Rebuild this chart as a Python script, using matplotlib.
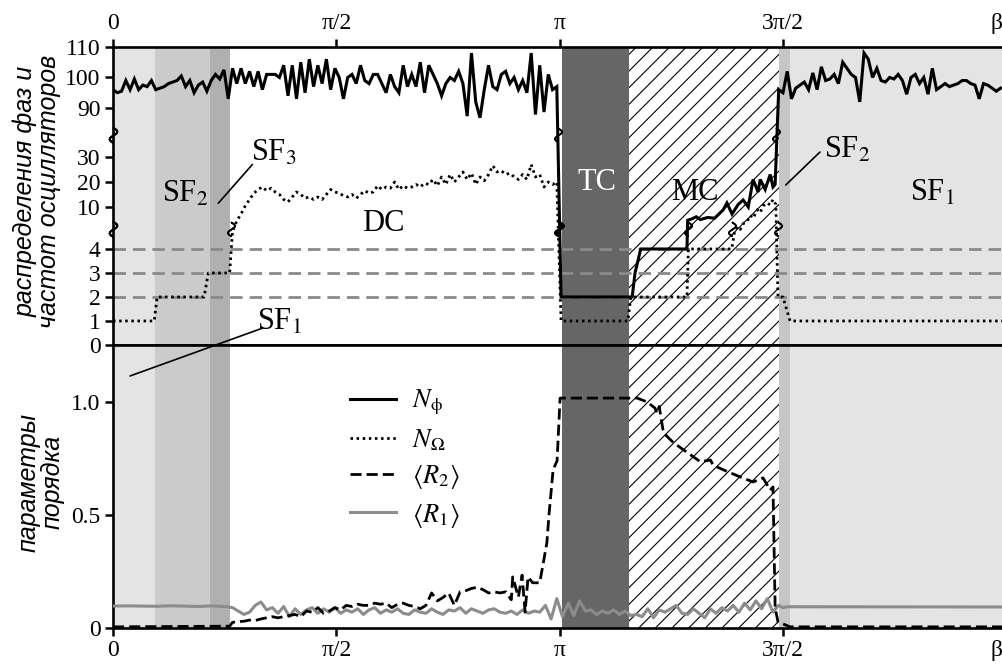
import numpy as np
import matplotlib
matplotlib.use('Agg')
import matplotlib.pyplot as plt
import matplotlib.transforms as mtrans
from matplotlib.path import Path

plt.rcParams['font.family'] = ['Liberation Serif', 'DejaVu Serif']
plt.rcParams['mathtext.fontset'] = 'stix'
plt.rcParams['hatch.linewidth'] = 0.8

# ---------------- data ----------------
xtick_vals = [0, np.pi / 2, np.pi, 3 * np.pi / 2, 6.21]
xtick_labels = ['0', 'π/2', 'π', '3π/2', 'β']
top_yticks = [0, 1, 2, 3, 4, 10, 20, 30, 90, 100, 110]
bot_yticks = [0, 0.5, 1.0]
bot_yticklabels = ['0', '0.5', '1.0']
level_lines = [2, 3, 4]

region_bounds = [0.0, 0.295, 0.68, 0.82, 3.16, 3.63, 4.68, 4.76, 6.25]
region_colors = ['#e4e4e4', '#cbcbcb', '#b0b0b0', 'white', '#666666', 'white', '#c6c6c6', '#e4e4e4']
region_hatch = [None, None, None, None, None, '//', None, None]

# N_phi
nphi_left_x = np.linspace(0, 3.12, 105)
nphi_left = [96, 95, 95.5, 99, 96, 99.5, 96, 97.5, 97, 99,
             96, 96.5, 97, 98, 98.5, 99, 100.5, 97, 99, 95,
             97.5, 98.5, 95.5, 99, 101, 99.5, 102.5, 93, 103, 98,
             103, 98, 102, 97, 102, 96, 101, 101, 101, 100,
             104, 94, 104, 93, 105, 95, 106, 97, 104, 98,
             106, 96, 103, 100, 93, 100, 101, 98, 104, 99,
             98, 101, 101, 98, 95, 101, 97, 95, 104, 97,
             101, 97, 105, 95, 104, 101, 98, 94, 98, 100,
             99, 102, 98, 80, 108, 92, 78, 96, 104, 97,
             96, 101, 102, 98, 100, 96, 99, 95, 108, 82,
             104, 85, 101, 96, 97]
nphi_mid_x = [3.15, 3.65, 3.67, 3.71, 4.035, 4.04, 4.07, 4.10, 4.13, 4.18,
              4.23, 4.29, 4.316, 4.352, 4.395, 4.43, 4.466, 4.50, 4.535, 4.55,
              4.585, 4.62, 4.64, 4.655, 4.68]
nphi_mid = [2, 2, 3, 4, 4, 8.1, 8.3, 8.6, 8.2, 8.5,
            8.4, 9.6, 11.6, 9, 11, 12.8, 10, 21, 16, 21,
            17, 23, 18, 19, 96]
nphi_right_x = np.linspace(4.71, 6.24, 52)
nphi_right = [95, 102, 93, 96.5, 97.5, 98.5, 96, 101.5, 96, 103.5,
              99, 99.5, 101, 98, 105, 103, 101, 100, 92, 108,
              106, 100, 103, 99, 98.5, 100, 99.5, 101, 99, 94.5,
              100, 101, 98, 100, 94.5, 103, 96, 97, 98, 97,
              97.5, 98, 99, 99, 98, 97.5, 93, 98, 97.5, 96.5,
              95.5, 96.5]

# N_Omega
nomega_a_x = [0.0, 0.29, 0.31, 0.64, 0.67, 0.82]
nomega_a = [1, 1, 2, 2, 3, 3]
nomega_dc_x = np.linspace(0.84, 3.12, 77)
nomega_dc = [6.5, 8, 9, 10.5, 13, 15.5, 17, 18, 16.5, 17.5,
             16, 15, 13, 12, 14, 16, 15, 13.5, 14, 13,
             14, 13, 15, 17, 16, 15.5, 14.5, 14, 15, 13.5,
             15, 16.5, 15.5, 16, 18.5, 17, 18, 17.5, 20, 17,
             18.5, 17.5, 18, 19, 18, 19.5, 19, 21, 18.5, 22,
             19, 23, 20, 22, 24, 21, 23.5, 19, 22, 20.5,
             23, 26.5, 24, 24.5, 23, 23.5, 22, 21, 23, 21,
             27, 22, 23, 18, 20, 19, 20]
nomega_b_x = [3.15, 3.62, 3.64, 4.035, 4.045, 4.35, 4.37, 4.39, 4.41, 4.43,
              4.46, 4.48, 4.50, 4.53, 4.55, 4.57, 4.60, 4.62, 4.64, 4.66,
              4.675, 4.71, 4.76, 6.25]
nomega_b = [1, 1, 2, 2, 4, 4, 6.5, 7.2, 6.8, 7.6,
            8, 8.8, 8.4, 9.6, 9.2, 10.4, 11.6, 10.8, 13, 11,
            2, 2, 1, 1]

# <R2>
r2_a_x = [0.0, 0.82]
r2_a = [0.005, 0.008]
r2_dc_x = np.linspace(0.84, 2.80, 50)
r2_dc = [0.025, 0.028, 0.03, 0.035, 0.033, 0.04, 0.045, 0.05, 0.045, 0.05,
         0.055, 0.06, 0.05, 0.075, 0.07, 0.09, 0.065, 0.075, 0.09, 0.08,
         0.1, 0.095, 0.105, 0.1, 0.1, 0.11, 0.105, 0.11, 0.09, 0.105,
         0.11, 0.1, 0.095, 0.085, 0.1, 0.155, 0.12, 0.135, 0.155, 0.10,
         0.16, 0.165, 0.175, 0.18, 0.17, 0.155, 0.16, 0.155, 0.16, 0.125]
r2_b_x = [2.81, 2.85, 2.876, 2.897, 2.918, 2.95, 3.00, 3.05, 3.065, 3.094,
          3.122, 3.143, 3.685, 3.755, 3.81, 3.825, 3.84, 3.87, 3.94, 4.04,
          4.13, 4.20, 4.22, 4.29, 4.41, 4.50, 4.57, 4.62, 4.64, 4.655,
          4.675, 4.73, 4.76, 6.25]
r2_b = [0.226, 0.137, 0.234, 0.07, 0.226, 0.2, 0.2, 0.376, 0.5, 0.70,
        0.74, 1.017, 1.017, 1.0, 0.973, 0.95, 0.98, 0.863, 0.82, 0.775,
        0.735, 0.743, 0.72, 0.70, 0.668, 0.646, 0.664, 0.61, 0.624, 0.09,
        0.027, 0.013, 0.005, 0.005]

# <R1>
r1_a_x = np.linspace(0, 0.80, 9)
r1_a = [0.097, 0.098, 0.097, 0.096, 0.098, 0.097, 0.095, 0.098, 0.094]
r1_b_x = np.linspace(0.84, 4.68, 97)
r1_b = [0.09, 0.075, 0.06, 0.07, 0.1, 0.115, 0.08, 0.09, 0.065, 0.095,
        0.05, 0.085, 0.06, 0.08, 0.09, 0.065, 0.085, 0.07, 0.09, 0.065,
        0.08, 0.07, 0.085, 0.06, 0.08, 0.09, 0.065, 0.08, 0.07, 0.085,
        0.065, 0.06, 0.08, 0.07, 0.065, 0.085, 0.07, 0.06, 0.08, 0.075,
        0.09, 0.065, 0.085, 0.075, 0.065, 0.08, 0.085, 0.07, 0.065, 0.075,
        0.06, 0.08, 0.065, 0.075, 0.07, 0.1, 0.04, 0.13, 0.05, 0.11,
        0.055, 0.12, 0.075, 0.08, 0.06, 0.075, 0.065, 0.08, 0.06, 0.075,
        0.055, 0.06, 0.05, 0.085, 0.045, 0.08, 0.07, 0.085, 0.1, 0.065,
        0.06, 0.085, 0.065, 0.045, 0.085, 0.065, 0.09, 0.075, 0.1, 0.07,
        0.11, 0.08, 0.12, 0.085, 0.13, 0.07, 0.1]
r1_c_x = [4.71, 4.74, 6.25]
r1_c = [0.09, 0.094, 0.093]

# where lines cross the axis breaks (x of the crossing)
lower_break_x = [0.83, 3.13, 3.145, 4.04, 4.355, 4.672]
upper_break_x = [3.128, 4.662]

nphi_x = np.concatenate([nphi_left_x, nphi_mid_x, nphi_right_x])
nphi = np.concatenate([nphi_left, nphi_mid, nphi_right])
nomega_x = np.concatenate([nomega_a_x, nomega_dc_x, nomega_b_x])
nomega = np.concatenate([nomega_a, nomega_dc, nomega_b])
r2_x = np.concatenate([r2_a_x, r2_dc_x, r2_b_x])
r2 = np.concatenate([r2_a, r2_dc, r2_b])
r1_x = np.concatenate([r1_a_x, r1_b_x, r1_c_x])
r1 = np.concatenate([r1_a, r1_b, r1_c])

# ---------------- broken-axis scale for the upper panel ----------------
_kv = [-100, 0, 4, 10, 30, 90, 110, 300]
_kp = [-2400, 0, 96, 138, 188, 237, 298, 877.5]
lower_break_v = 6.86
upper_break_v = 56.9


def fwd(v):
    return np.interp(v, _kv, _kp)


def inv(p):
    return np.interp(p, _kp, _kv)


# open S-shaped squiggle marker (traced forth and back so it never closes)
_t = np.linspace(-1, 1, 21)
_sx = 0.5 * np.sin(np.pi * _t)
_verts = np.column_stack([np.concatenate([_sx, _sx[::-1]]),
                          np.concatenate([_t, _t[::-1]])])
squiggle = Path(_verts)

fig = plt.figure(figsize=(10.02, 6.70), dpi=100)
ax1 = fig.add_axes([0.1128, 0.4851, 0.8872, 0.4448])
ax2 = fig.add_axes([0.1128, 0.0627, 0.8872, 0.4224])

for ax in (ax1, ax2):
    for i in range(len(region_colors)):
        h = region_hatch[i]
        ax.axvspan(region_bounds[i], region_bounds[i + 1], facecolor=region_colors[i],
                   edgecolor='black' if h else 'none', hatch=h, lw=0, zorder=0)
    ax.set_xlim(0, 6.25)
    ax.spines['right'].set_visible(False)
    for s in ('left', 'top', 'bottom'):
        ax.spines[s].set_linewidth(1.9)

ax1.set_yscale('function', functions=(fwd, inv))
ax1.set_ylim(0, 110)
for v in level_lines:
    ax1.axhline(v, color='#8a8a8a', lw=2.0, dashes=(4.5, 2.5), zorder=1)

l_phi, = ax1.plot(nphi_x, nphi, color='black', lw=2.2, zorder=4, solid_joinstyle='miter')
l_om, = ax1.plot(nomega_x, nomega, color='black', lw=2.0, ls=(0, (0.9, 1.3)), zorder=4)

# break marks
btr = mtrans.blended_transform_factory(ax1.transAxes, ax1.transData)
for v in (lower_break_v, upper_break_v):
    ax1.plot([0], [v], transform=btr, marker=squiggle, markersize=11, color='black',
             mfc='none', mew=1.4, clip_on=False, zorder=6)
ax1.plot(lower_break_x, [lower_break_v] * len(lower_break_x), ls='none', marker=squiggle,
         markersize=10, color='black', mfc='none', mew=1.2, zorder=6)
ax1.plot(upper_break_x, [upper_break_v] * len(upper_break_x), ls='none', marker=squiggle,
         markersize=10, color='black', mfc='none', mew=1.2, zorder=6)

ax1.xaxis.tick_top()
ax1.set_xticks(xtick_vals)
ax1.set_xticklabels(xtick_labels)
ax1.set_yticks(top_yticks)
ax1.set_yticklabels([str(t) for t in top_yticks])
ax1.tick_params(axis='both', direction='out', length=6, width=1.8, labelsize=17, pad=3)
ax1.minorticks_off()

ax2.set_ylim(0, 1.252)
l_r2, = ax2.plot(r2_x, r2, color='black', lw=2.0, dashes=(4, 1.8), zorder=4)
l_r1, = ax2.plot(r1_x, r1, color='#8c8c8c', lw=2.2, zorder=3)
ax2.set_xticks(xtick_vals)
ax2.set_xticklabels(xtick_labels)
ax2.set_yticks(bot_yticks)
ax2.set_yticklabels(bot_yticklabels)
ax2.tick_params(axis='both', direction='out', length=6, width=1.8, labelsize=17, pad=3)

for ax in (ax1, ax2):
    t = ax.xaxis.get_major_ticks()[-1]
    t.tick1line.set_visible(False)
    t.tick2line.set_visible(False)

# region labels
lab_fs = 22
ax1.text(1.90, 7.7, 'DC', ha='center', va='center', fontsize=lab_fs)
ax1.text(3.40, 19.6, 'TC', ha='center', va='center', fontsize=lab_fs, color='white')
ax1.text(4.09, 15.6, 'MC', ha='center', va='center', fontsize=lab_fs)
ax1.text(0.51, 15.0, r'SF$_2$', ha='center', va='center', fontsize=lab_fs)
ax1.text(1.13, 35.0, r'SF$_3$', ha='center', va='center', fontsize=lab_fs)
ax1.annotate('', xy=(0.74, 11.5), xytext=(0.98, 27.0),
             arrowprops=dict(arrowstyle='-', lw=1.2, color='black', shrinkA=0, shrinkB=0))
ax1.text(1.17, 0.95, r'SF$_1$', ha='center', va='center', fontsize=lab_fs)
ax2.annotate('', xy=(0.12, 1.115), xycoords=ax2.transData, xytext=(1.05, 0.7),
             textcoords=ax1.transData,
             arrowprops=dict(arrowstyle='-', lw=1.2, color='black', shrinkA=0, shrinkB=0),
             annotation_clip=False, zorder=7)
ax1.text(5.16, 38.0, r'SF$_2$', ha='center', va='center', fontsize=lab_fs)
ax1.annotate('', xy=(4.73, 18.8), xytext=(4.97, 36.0),
             arrowprops=dict(arrowstyle='-', lw=1.2, color='black', shrinkA=0, shrinkB=0))
ax1.text(5.76, 15.6, r'SF$_1$', ha='center', va='center', fontsize=lab_fs)

# legend
ax2.legend([l_phi, l_om, l_r2, l_r1],
           [r'$N_{\mathrm{\phi}}$', r'$N_\Omega$', r'$\langle R_2\rangle$', r'$\langle R_1\rangle$'],
           loc='upper left', bbox_to_anchor=(0.255, 0.885), frameon=False, fontsize=19,
           handlelength=1.75, labelspacing=0.36, handletextpad=0.6, borderaxespad=0)

# axis titles
fig.text(0.037, 0.715, 'распределения фаз и\nчастот осцилляторов', rotation=90,
         ha='center', va='center', fontsize=18, style='italic',
         family=['Liberation Sans', 'DejaVu Sans'], linespacing=1.0)
fig.text(0.040, 0.28, 'параметры\nпорядка', rotation=90,
         ha='center', va='center', fontsize=18, style='italic',
         family=['Liberation Sans', 'DejaVu Sans'], linespacing=1.0)

fig.savefig('out.png', dpi=100)
